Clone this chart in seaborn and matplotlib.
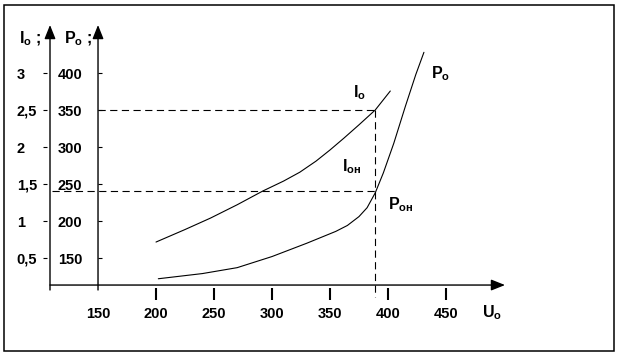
import matplotlib
matplotlib.use("Agg")
import matplotlib.pyplot as plt
import seaborn as sns
import pandas as pd
from matplotlib.patches import Rectangle

# ---------------- data ----------------
U_I0 = [200, 225, 247, 270, 292, 310, 324, 338, 350, 362, 375, 389, 402]
I0 = [0.716, 0.885, 1.04, 1.22, 1.405, 1.54, 1.66, 1.81, 1.96, 2.12, 2.30, 2.50, 2.757]

U_P0 = [202, 240, 270, 300, 330, 355, 365, 375, 382, 389, 396, 405, 415, 424, 431]
P0 = [122, 129, 137, 152, 170, 186, 194, 206, 218, 238, 265, 305, 355, 398, 428]

x_ticks = [150, 200, 250, 300, 350, 400, 450]
x_tick_labels = ["150", "200", "250", "300", "350", "400", "450"]
p_ticks = [150, 200, 250, 300, 350, 400]
p_tick_labels = ["150", "200", "250", "300", "350", "400"]
i_ticks = [0.5, 1, 1.5, 2, 2.5, 3]
i_tick_labels = ["0,5", "1", "1,5", "2", "2,5", "3"]

U_nom = 389      # nominal voltage
I_nom = 2.5      # upper dashed level (I axis)
P_nom = 240      # lower dashed level (P axis)

def i_to_p(i):
    return 100 + 100 * i

def p_to_i(p):
    return (p - 100) / 100

# ---------------- style ----------------
sns.set_theme(style="white")
plt.rcParams["font.family"] = ["Liberation Sans", "DejaVu Sans"]
plt.rcParams["font.weight"] = "bold"
plt.rcParams["mathtext.fontset"] = "custom"
plt.rcParams["mathtext.rm"] = "Liberation Sans:bold"
plt.rcParams["mathtext.it"] = "Liberation Sans:bold"
plt.rcParams["mathtext.bf"] = "Liberation Sans:bold"

W, H = 618, 354
fig = plt.figure(figsize=(W / 100, H / 100), dpi=100)
fig.patch.set_facecolor("white")

# axes: x from px 50 to 505, y from px 25 to 290
ax = fig.add_axes([50 / W, (H - 290) / H, (505 - 50) / W, (290 - 25) / H])
ax.set_facecolor("white")
XMIN, XMAX = 108.6, 500.9
YMIN, YMAX = 106.8, 464.9
ax.set_xlim(XMIN, XMAX)
ax.set_ylim(YMIN, YMAX)
Y_XAXIS = 113.5  # P-level where the U axis line is drawn

# curves
df_i = pd.DataFrame({"U": U_I0, "P": [i_to_p(v) for v in I0]})
df_p = pd.DataFrame({"U": U_P0, "P": P0})
sns.lineplot(data=df_i, x="U", y="P", ax=ax, color="black", lw=0.8,
             sort=False, estimator=None)
sns.lineplot(data=df_p, x="U", y="P", ax=ax, color="black", lw=0.8,
             sort=False, estimator=None)
ax.set_xlabel("")
ax.set_ylabel("")

# dashed guide lines
dash = dict(color="black", lw=0.8, dashes=(6.5, 4), clip_on=False)
ax.plot([150, U_nom], [i_to_p(I_nom), i_to_p(I_nom)], **dash)
ax.plot([XMIN + 2, U_nom], [P_nom, P_nom], **dash)
ax.plot([U_nom, U_nom], [i_to_p(I_nom), 97], **dash)

# spines hidden; axes drawn as arrows
for s in ax.spines.values():
    s.set_visible(False)
ax.spines["left"].set_position(("data", 150))
ax.spines["bottom"].set_position(("outward", -1.5))

arrow = dict(arrowstyle="-|>,head_length=0.7,head_width=0.28", color="black",
             lw=1.0, mutation_scale=12, shrinkA=0, shrinkB=0)
ax.annotate("", xy=(XMIN, YMAX), xytext=(XMIN, YMIN), arrowprops=arrow,
            annotation_clip=False)
ax.annotate("", xy=(150, YMAX), xytext=(150, YMIN), arrowprops=arrow,
            annotation_clip=False)
ax.annotate("", xy=(XMAX, Y_XAXIS), xytext=(XMIN, Y_XAXIS), arrowprops=arrow,
            annotation_clip=False)

# x ticks
ax.set_xticks(x_ticks, labels=x_tick_labels)
ax.tick_params(axis="x", direction="out", length=8.6, width=1.5, pad=5.5,
               labelsize=10.5, bottom=True, colors="black")
ax.xaxis.get_major_ticks()[0].tick1line.set_visible(False)

# P axis ticks
ax.set_yticks(p_ticks, labels=p_tick_labels)
ax.tick_params(axis="y", direction="in", length=3, width=0.8, pad=11.5,
               labelsize=10.5, left=True, colors="black")

# I axis (secondary)
sec = ax.secondary_yaxis(-3 / 455, functions=(p_to_i, i_to_p))
sec.spines["left"].set_visible(False)
sec.set_yticks(i_ticks, labels=i_tick_labels)
sec.tick_params(axis="y", direction="out", length=3, width=0.8, pad=18.7,
                labelsize=10.5, colors="black")
for lab in sec.get_yticklabels():
    lab.set_horizontalalignment("left")

for lab in ax.get_xticklabels() + ax.get_yticklabels() + sec.get_yticklabels():
    lab.set_fontweight("bold")

# text labels
tk = dict(fontsize=11.5, color="black", ha="center", va="center")
ax.text(375, 373, r"$I_{o}$", **tk)
ax.text(445, 399, r"$P_{o}$", **tk)
ax.text(369, 273, r"$I_{он}$", **tk)
ax.text(411, 222, r"$P_{он}$", **tk)
ax.text(490, 76, r"$U_{o}$", **tk)
ax.text(91.5, 446, r"$I_{o}$ ;", **tk)
ax.text(133, 446, r"$P_{o}$ ;", **tk)

# outer border
fig.add_artist(Rectangle((3.5 / W, (H - 351) / H), (614 - 3.5) / W, (351 - 5) / H,
                         transform=fig.transFigure, fill=False,
                         edgecolor="black", lw=1.1))

fig.savefig("out.png", dpi=100, facecolor="white")
